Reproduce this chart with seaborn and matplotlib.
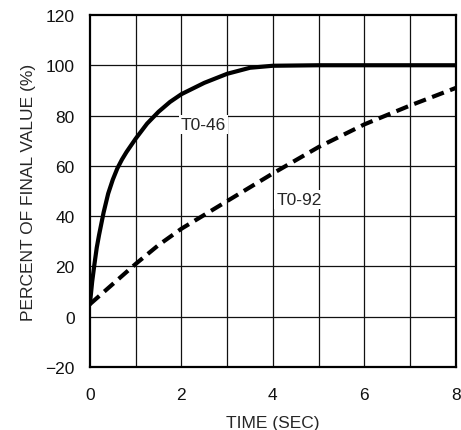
import pandas as pd
import seaborn as sns
import matplotlib.pyplot as plt
import numpy as np

# Values
time_46 = [0, 0.05, 0.1, 0.15, 0.2, 0.3, 0.4, 0.5, 0.6, 0.7, 0.8, 1.0, 1.25, 1.5, 1.75,
           2.0, 2.5, 3.0, 3.5, 4.0, 5, 6, 7, 8]
pct_46 = [5, 14, 21, 27.5, 32.5, 41.5, 49, 54.5, 59, 62.5, 65.5, 70.8, 76.8, 81.5, 85.4,
          88.5, 93, 96.6, 99, 99.8, 100, 100, 100, 100]

time_92 = [0, 0.5, 1, 1.5, 2, 2.5, 3, 3.5, 4, 5, 6, 7, 8]
pct_92 = [5, 13, 21, 28.5, 35, 40.5, 46, 51.5, 57, 67.5, 76.5, 84, 91]

x_ticks = [0, 2, 4, 6, 8]
y_ticks = [-20, 0, 20, 40, 60, 80, 100, 120]

sns.set_style("white")
plt.rcParams['font.family'] = ['Liberation Sans', 'DejaVu Sans']
fs = 12.5

df46 = pd.DataFrame({'time': time_46, 'pct': pct_46})
df92 = pd.DataFrame({'time': time_92, 'pct': pct_92})

fig, ax = plt.subplots(figsize=(4.61, 4.31), dpi=100)
fig.subplots_adjust(left=0.195, right=0.989, top=0.963, bottom=0.146)

# grid every 1 sec / 20 %
for gx in range(1, 8):
    ax.axvline(gx, color='#111111', lw=0.9, zorder=1)
for gy in range(0, 120, 20):
    ax.axhline(gy, color='#111111', lw=0.9, zorder=1)

sns.lineplot(data=df46, x='time', y='pct', color='black', lw=3.0, ax=ax, zorder=3)
sns.lineplot(data=df92, x='time', y='pct', color='black', lw=3.0, ax=ax, zorder=3,
             linestyle=(0, (3, 1.6)))

ax.text(2.48, 76.5, 'T0-46', ha='center', va='center', fontsize=fs, zorder=2,
        bbox=dict(facecolor='white', edgecolor='none', pad=1.5))
ax.text(4.57, 46.5, 'T0-92', ha='center', va='center', fontsize=fs, zorder=2,
        bbox=dict(facecolor='white', edgecolor='none', pad=1.5))

ax.set_xlim(0, 8)
ax.set_ylim(-20, 120)
ax.set_xticks(x_ticks)
ax.set_yticks(y_ticks)
ax.tick_params(length=0, pad=11, labelsize=fs, colors='#111111')
ax.tick_params(axis='x', pad=14)
ax.set_xlabel('TIME (SEC)', fontsize=fs, labelpad=10)
ax.set_ylabel('PERCENT OF FINAL VALUE (%)', fontsize=fs, labelpad=7)

for s in ax.spines.values():
    s.set_visible(True)
    s.set_color('black')
    s.set_linewidth(1.6)

fig.savefig('out.png', dpi=100)
